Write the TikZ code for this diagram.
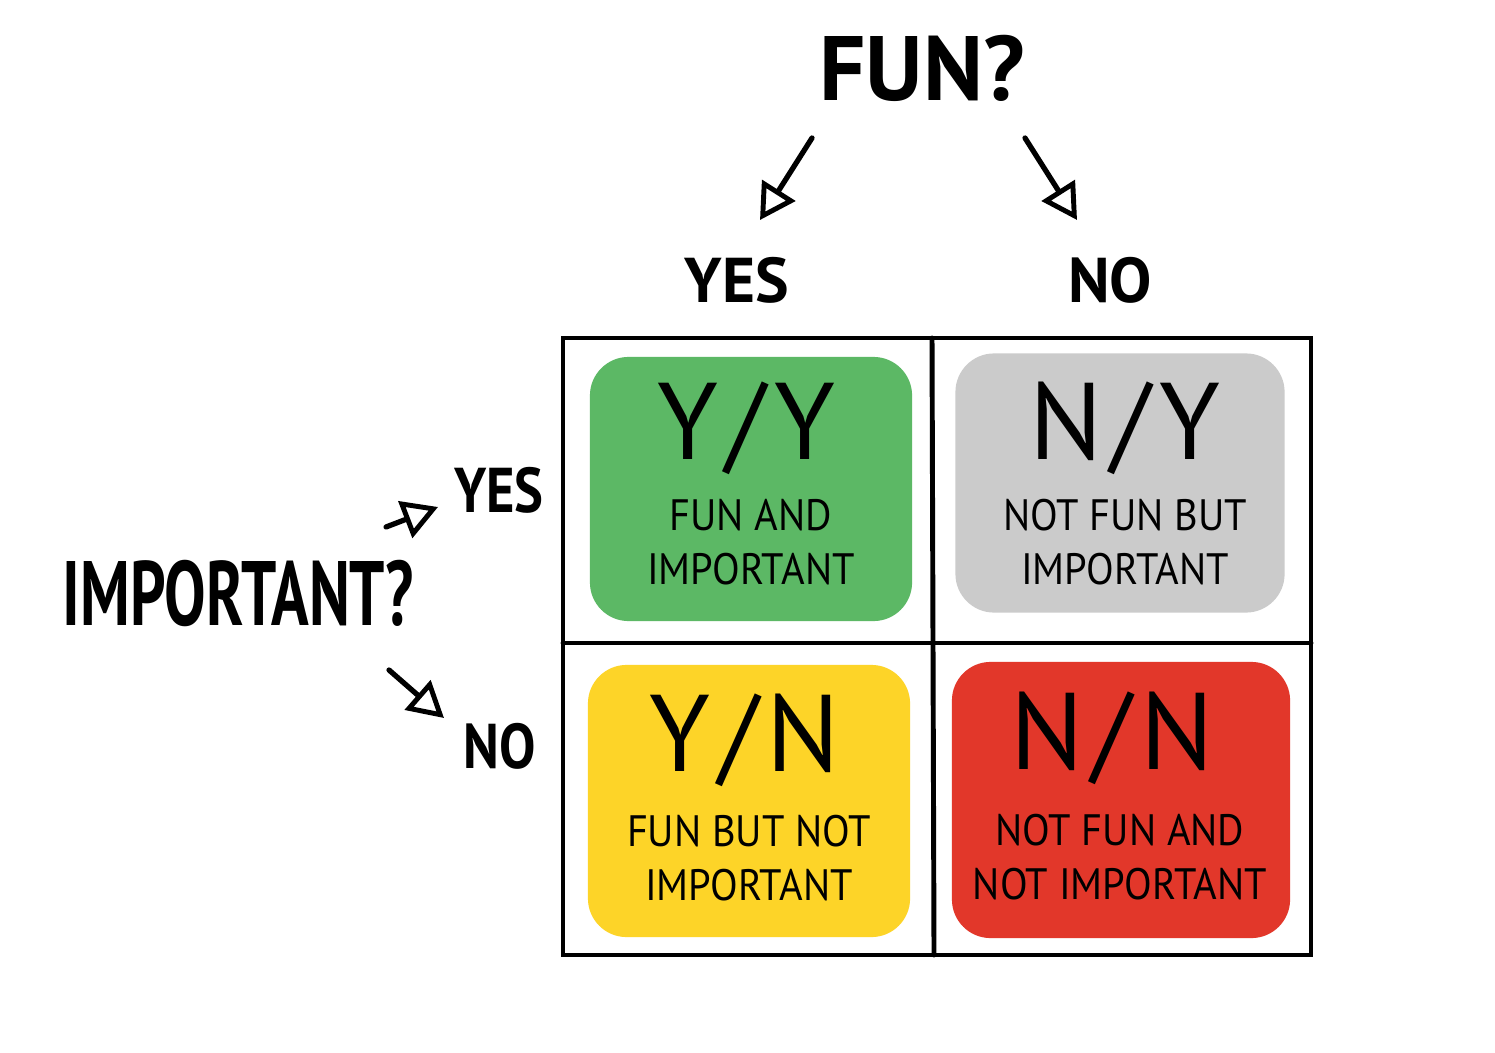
\documentclass[tikz,border=0pt]{standalone}
\usepackage{fontspec}
\setmainfont{PT Sans}
\usetikzlibrary{arrows.meta}
\definecolor{cellgreen}{HTML}{5CB865}
\definecolor{cellgray}{HTML}{CBCBCB}
\definecolor{cellyellow}{HTML}{FDD428}
\definecolor{cellred}{HTML}{E2372A}
\newcommand{\gap}{\kern2.5pt}

\begin{document}
\begin{tikzpicture}[x=0.01cm,y=-0.01cm,
                    title/.style={font=\bfseries\fontsize{26}{30}\selectfont},
                    answer/.style={font=\bfseries\fontsize{18}{22}\selectfont},
                    pair/.style={font=\fontsize{31}{36}\selectfont},
                    caption/.style={font=\fontsize{12.5}{15.5}\selectfont, align=center,
                                    xscale=0.92, transform shape},
                    paint/.style={rounded corners=11pt, inner sep=0pt},
                    grid/.style={line width=1.4pt, line cap=round},
                    arrow/.style={line width=1.5pt, line cap=round,
                                  -{Triangle[open, length=10pt, width=11pt, line width=1.4pt]}}]
                    \fill[white] (0,0) rectangle (1495,1052);
                    \useasboundingbox (0,0) rectangle (1495,1052);
                    % painted cells
                    \node[paint, fill=cellgreen,  minimum width=3.22cm, minimum height=2.64cm] (yybox) at (751,489) {};
                    \node[paint, fill=cellgray,   minimum width=3.29cm, minimum height=2.59cm] (nybox) at (1120,483) {};
                    \node[paint, fill=cellyellow, minimum width=3.22cm, minimum height=2.72cm] (ynbox) at (749,801) {};
                    \node[paint, fill=cellred,    minimum width=3.38cm, minimum height=2.76cm] (nnbox) at (1121,800) {};
                    % grid
                    \draw[grid] (563,338) rectangle (1311,955);
                    \draw[grid] (932,338) -- (934,955);
                    \draw[grid] (563,643) -- (1311,643);
                    % questions and answers
                    \node[title] (fun) at (922,68) {FUN?};
                    \node[answer] (funyes) at (737,280) {YES};
                    \node[answer] (funno) at (1110,280) {NO};
                    \node[title, xscale=0.68, transform shape] (important) at (238,593) {IMPORTANT?};
                    \node[answer, xscale=0.86, transform shape] (impyes) at (499,490) {YES};
                    \node[answer, xscale=0.86, transform shape] (impno) at (500,746) {NO};
                    \coordinate (funyesfrom) at (812,138);
                    \coordinate (funyesto) at (760,220);
                    \coordinate (funnofrom) at (1025,138);
                    \coordinate (funnoto) at (1077,220);
                    \coordinate (impyesfrom) at (386,527);
                    \coordinate (impyesto) at (438,507);
                    \coordinate (impnofrom) at (389,670);
                    \coordinate (impnoto) at (444,718);
                    \draw[arrow] (funyesfrom) -- (funyesto);
                    \draw[arrow] (funnofrom) -- (funnoto);
                    \draw[arrow] (impyesfrom) -- (impyesto);
                    \draw[arrow] (impnofrom) -- (impnoto);
                    % cell texts
                    \node[pair] (yy) at (746,428) {Y\gap/\gap Y};
                    \node[caption] (yytext) at (751,542) {FUN AND\\IMPORTANT};
                    \node[pair] (ny) at (1125,428) {N\gap/\gap Y};
                    \node[caption] (nytext) at (1125,542) {NOT FUN BUT\\IMPORTANT};
                    \node[pair] (yn) at (745,740) {Y\gap/\gap N};
                    \node[caption] (yntext) at (749,858) {FUN BUT NOT\\IMPORTANT};
                    \node[pair] (nn) at (1112,738) {N\gap/\gap N};
                    \node[caption] (nntext) at (1120,857) {NOT FUN AND\\NOT IMPORTANT};
                \end{tikzpicture}
\end{document}
